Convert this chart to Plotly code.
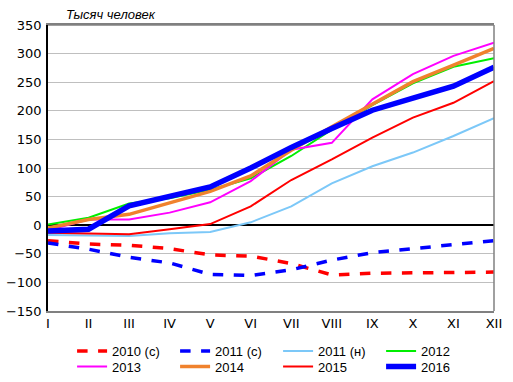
import plotly.graph_objects as go

months = ["I", "II", "III", "IV", "V", "VI", "VII", "VIII", "IX", "X", "XI", "XII"]

y2010c = [-27, -33, -35, -41, -52, -54, -67, -87, -84, -83, -82, -82]
y2011c = [-31, -42, -56, -66, -86, -88, -78, -61, -48, -41, -35, -27]
y2011n = [-17, -18, -19, -14, -12, 5, 33, 73, 103, 127, 156, 187]
y2012 = [1, 13, 38, 47, 62, 82, 121, 167, 210, 248, 277, 292]
y2013 = [-9, 10, 10, 22, 40, 77, 132, 144, 220, 264, 296, 319]
y2014 = [-5, 10, 19, 39, 59, 86, 131, 172, 212, 251, 280, 309]
y2015 = [-13, -14, -16, -7, 2, 33, 79, 115, 153, 188, 214, 252]
y2016 = [-10, -7, 34, 50, 67, 100, 136, 169, 201, 222, 243, 276]

series = [
    ("2010 (с)", y2010c, "#FF0000", 3.5, "dash", "legend"),
    ("2011 (с)", y2011c, "#0000FF", 3.5, "dash", "legend"),
    ("2011 (н)", y2011n, "#7CC8F8", 2, "solid", "legend"),
    ("2012", y2012, "#00EE00", 2, "solid", "legend"),
    ("2013", y2013, "#FF00FF", 2, "solid", "legend2"),
    ("2014", y2014, "#F0822D", 3.5, "solid", "legend2"),
    ("2015", y2015, "#FF0000", 2, "solid", "legend2"),
    ("2016", y2016, "#0000FF", 5.5, "solid", "legend2"),
]

fig = go.Figure()
for name, ys, color, width, dash, leg in series:
    fig.add_trace(go.Scatter(
        x=months, y=ys, name=name, mode="lines", legend=leg,
        line=dict(color=color, width=width, dash=dash),
    ))

tickfont = dict(family="DejaVu Sans, Verdana, sans-serif", size=13, color="#000000")
legfont = dict(family="Liberation Sans, Arial, sans-serif", size=13, color="#000000")

legend_common = dict(
    orientation="h", xanchor="left", yanchor="middle",
    entrywidth=58, entrywidthmode="pixels", font=legfont,
    bgcolor="rgba(0,0,0,0)", borderwidth=0,
)

fig.update_layout(
    width=513, height=382,
    margin=dict(l=48, r=19, t=25, b=71, autoexpand=False),
    paper_bgcolor="white", plot_bgcolor="white",
    font=legfont,
    showlegend=True,
    legend=dict(legend_common, x=0.054, y=-0.14),
    legend2=dict(legend_common, x=0.054, y=-0.194),
    xaxis=dict(
        type="category", range=[0, 11], showgrid=False, zeroline=False,
        showline=True, linecolor="#808080", linewidth=1.5, mirror=True,
        ticks="", tickfont=tickfont,
    ),
    yaxis=dict(
        range=[-150, 350], dtick=50, showgrid=True, gridcolor="#BFBFBF", gridwidth=1,
        zeroline=True, zerolinecolor="#000000", zerolinewidth=1.5,
        showline=True, linecolor="#000000", linewidth=1.5,
        ticks="", tickfont=tickfont, ticklabelstandoff=2,
    ),
    shapes=[dict(type="line", xref="paper", yref="paper", x0=1, x1=1, y0=0, y1=1,
                 line=dict(color="#808080", width=1.5), layer="above"),
            dict(type="line", xref="paper", yref="paper", x0=0, x1=1, y0=1, y1=1,
                 line=dict(color="#808080", width=1.5), layer="above")],
    annotations=[dict(text="<i>Тысяч человек</i>", xref="paper", yref="paper",
                      x=0.035, y=1.005, xanchor="left", yanchor="bottom", showarrow=False,
                      font=dict(family="Liberation Sans, Arial, sans-serif", size=13))],
)

fig.write_html("out.html", config={"displayModeBar": False},
               post_script="document.body.style.margin='0';document.body.style.overflow='hidden';")
